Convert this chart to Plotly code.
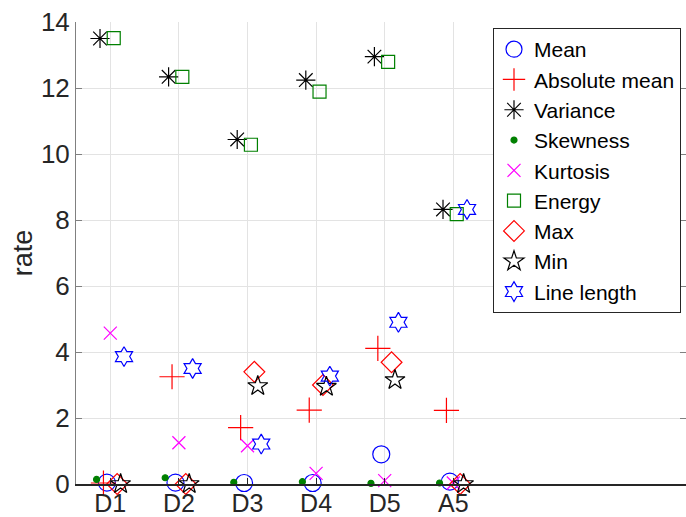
import plotly.graph_objects as go

categories = ["D1", "D2", "D3", "D4", "D5", "A5"]
cat_pos = [1, 2, 3, 4, 5, 6]

mean_vals = [0.04, 0.04, 0.03, 0.03, 0.90, 0.07]
absmean_vals = [0.03, 3.25, 1.71, 2.24, 4.11, 2.23]
variance_vals = [13.50, 12.34, 10.44, 12.24, 12.95, 8.32]
skewness_vals = [0.14, 0.19, 0.05, 0.07, 0.02, 0.03]
kurtosis_vals = [4.57, 1.25, 1.16, 0.32, 0.10, 0.03]
energy_vals = [13.51, 12.34, 10.28, 11.89, 12.79, 8.18]
max_vals = [0.0, 0.0, 3.40, 3.00, 3.69, 0.0]
min_vals = [0.0, 0.0, 2.97, 2.95, 3.15, 0.0]
linelength_vals = [3.86, 3.50, 1.21, 3.27, 4.90, 8.32]

y_ticks = [0, 2, 4, 6, 8, 10, 12, 14]

series = [
    ("Mean", mean_vals, -0.05, "circle-open", "#0000ff", 17),
    ("Absolute mean", absmean_vals, -0.10, "cross-thin-open", "#ff0000", 18),
    ("Variance", variance_vals, -0.15, "asterisk-open", "#000000", 16),
    ("Skewness", skewness_vals, -0.20, "circle", "#008000", 6),
    ("Kurtosis", kurtosis_vals, 0.0, "x-thin-open", "#ff00ff", 13),
    ("Energy", energy_vals, 0.05, "square-open", "#008000", 13),
    ("Max", max_vals, 0.10, "diamond-open", "#ff0000", 16),
    ("Min", min_vals, 0.15, "star-open", "#000000", 15),
    ("Line length", linelength_vals, 0.20, "hexagram-open", "#0000ff", 15),
]

fig = go.Figure()
for name, vals, off, sym, col, sz in series:
    fig.add_trace(go.Scatter(
        x=[p + off for p in cat_pos], y=vals, mode="markers", name=name,
        marker=dict(symbol=sym, size=sz, color=col,
                    line=dict(color=col, width=1.2)),
        cliponaxis=False,
    ))

font_family = "Liberation Sans, Arial, sans-serif"
x_range = [0.5, 0.5 + 610 / 68.6]
fig.update_layout(
    width=686, height=517,
    margin=dict(l=76, r=0, t=22, b=33, autoexpand=False),
    paper_bgcolor="white", plot_bgcolor="white",
    font=dict(family=font_family, color="#262626", size=26),
    showlegend=True,
    legend=dict(
        x=(493 - 76) / 610, y=1 - (28 - 22) / 462, xanchor="left", yanchor="top",
        bgcolor="white", bordercolor="#262626", borderwidth=1,
        font=dict(family=font_family, size=21, color="#000000"),
        itemsizing="trace",
    ),
    xaxis=dict(
        range=x_range, automargin=False,
        tickvals=cat_pos, ticktext=categories,
        showgrid=True, gridcolor="#e3e3e3", gridwidth=1,
        showline=True, linecolor="#262626", linewidth=1.5, mirror=False,
        ticks="inside", ticklen=6, tickcolor="#262626",
        zeroline=False, tickfont=dict(size=25), ticklabelstandoff=-4,
    ),
    xaxis2=dict(
        range=x_range, overlaying="x", side="top", anchor="y", automargin=False,
        tickvals=cat_pos, showticklabels=False, showgrid=False,
        showline=True, linecolor="#808080", linewidth=1,
        ticks="inside", ticklen=6, tickcolor="#808080", zeroline=False,
    ),
    yaxis=dict(
        range=[0, 14], tickvals=y_ticks, automargin=False,
        showgrid=True, gridcolor="#e3e3e3", gridwidth=1,
        showline=True, linecolor="#808080", linewidth=1, mirror="ticks",
        ticks="inside", ticklen=6, tickcolor="#808080",
        zeroline=False,
        tickfont=dict(size=26),
        title=dict(text="rate", font=dict(size=27), standoff=0),
    ),
)

fig.write_html("out.html")
